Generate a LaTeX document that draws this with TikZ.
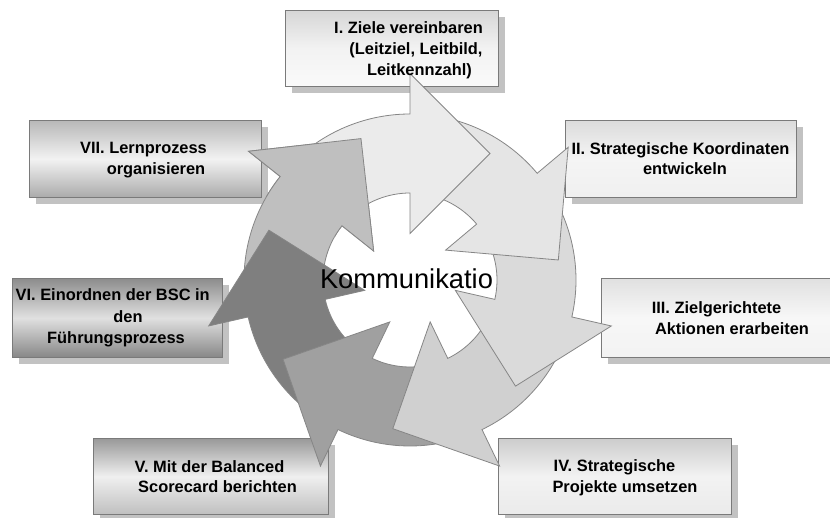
\documentclass[tikz,border=0pt]{standalone}
\usepackage{fontspec}
\newfontfamily\labelfont{Liberation Sans}
\usetikzlibrary{shadows}

\definecolor{arrowline}{HTML}{868686}
\definecolor{boxline}{HTML}{7A7A7A}
\definecolor{shadowgray}{HTML}{C2C2C2}
\definecolor{arrowI}{HTML}{EBEBEB}
\definecolor{arrowII}{HTML}{E5E5E5}
\definecolor{arrowIII}{HTML}{DADADA}
\definecolor{arrowIV}{HTML}{D0D0D0}
\definecolor{arrowV}{HTML}{A0A0A0}
\definecolor{arrowVI}{HTML}{7F7F7F}
\definecolor{arrowVII}{HTML}{BFBFBF}

% ring geometry (pt): inner/outer radius of the shaft, barb radii, tip
\def\rin{87}
\def\rout{166}
\def\rbarbin{46.5}
\def\rbarbout{206.5}
\def\rtip{149.67}

% one curved block arrow of the cycle: #1 = angle of the head base, #2 = fill
\newcommand\cyclearrow[2]{%
  \pgfmathsetmacro\arrowstart{#1+43}%
  \pgfmathsetmacro\arrowtip{#1-32.31}%
  \filldraw[arrowpart, fill=#2]
    (\arrowstart:\rout) arc[start angle=\arrowstart, end angle=#1, radius=\rout pt]
    -- (#1:\rbarbout) -- (\arrowtip:\rtip) -- (#1:\rbarbin) -- (#1:\rin)
    arc[start angle=#1, end angle=\arrowstart, radius=\rin pt] -- cycle;}

\tikzset{
  box/.style={draw=boxline, line width=0.8pt, inner sep=0pt, anchor=north west,
    drop shadow={shadow xshift=7pt, shadow yshift=-7pt, fill=shadowgray, opacity=1}},
  boxtext/.style={font=\labelfont\bfseries\fontsize{16.4}{20}\selectfont,
    anchor=base, inner sep=0pt, text=black},
  hubtext/.style={font=\labelfont\fontsize{27.3}{32}\selectfont,
    anchor=base, inner sep=0pt, text=black},
  arrowpart/.style={draw=arrowline, line width=0.8pt, line join=miter},
}

\begin{document}
\begin{tikzpicture}[x=1pt,y=1pt]
\fill[white] (0,0) rectangle (830,-517);
\useasboundingbox (0,0) rectangle (830,-517);

% step boxes
\node[box, minimum width=213pt, minimum height=76pt,
  top color=black!16, bottom color=black!2, middle color=black!5] (box1) at (285,-10) {};
\node[box, minimum width=231pt, minimum height=77pt,
  top color=black!14, bottom color=black!6, middle color=black!4] (box2) at (565,-120) {};
\node[box, minimum width=230pt, minimum height=79pt,
  top color=black!12, bottom color=black!5, middle color=black!3] (box3) at (601,-278) {};
\node[box, minimum width=233pt, minimum height=76pt,
  top color=black!20, bottom color=black!8, middle color=black!5] (box4) at (498,-438) {};
\node[box, minimum width=235pt, minimum height=76pt,
  top color=black!40, bottom color=black!25, middle color=black!6] (box5) at (93,-438) {};
\node[box, minimum width=210pt, minimum height=79pt,
  top color=black!45, bottom color=black!47, middle color=black!12] (box6) at (12,-278) {};
\node[box, minimum width=232pt, minimum height=77pt,
  top color=black!28, bottom color=black!33, middle color=black!5] (box7) at (29,-120) {};

% cycle of arrows around the centre
\begin{scope}[shift={(410,-280)}]
  \cyclearrow{141.43}{arrowVII}
  \cyclearrow{192.86}{arrowVI}
  \cyclearrow{244.29}{arrowV}
  \cyclearrow{295.71}{arrowIV}
  \cyclearrow{347.14}{arrowIII}
  \cyclearrow{40}{arrowII}
  \cyclearrow{90}{arrowI}
  % the head of arrow VII lies over the tail of arrow I
  \begin{scope}
    \clip (0,0) -- (95:320) arc[start angle=95, end angle=150, radius=320pt] -- cycle;
    \cyclearrow{141.43}{arrowVII}
  \end{scope}
\end{scope}

% labels
\node[boxtext] (t1a) at (408.5,-33) {I. Ziele vereinbaren};
\node[boxtext] (t1b) at (416,-54) {(Leitziel, Leitbild,};
\node[boxtext] (t1c) at (419.5,-75) {Leitkennzahl)};

\node[boxtext] (t2a) at (680.5,-154) {II. Strategische Koordinaten};
\node[boxtext] (t2b) at (685,-174) {entwickeln};

\node[boxtext] (t3a) at (716.5,-313) {III. Zielgerichtete};
\node[boxtext] (t3b) at (732,-334) {Aktionen erarbeiten};

\node[boxtext] (t4a) at (614.5,-471.5) {IV. Strategische};
\node[boxtext] (t4b) at (625,-492.5) {Projekte umsetzen};

\node[boxtext] (t5a) at (209.5,-472.5) {V. Mit der Balanced};
\node[boxtext] (t5b) at (217.5,-492.5) {Scorecard berichten};

\node[boxtext] (t6a) at (112.7,-300) {VI. Einordnen der BSC in};
\node[boxtext] (t6b) at (128,-322.5) {den};
\node[boxtext] (t6c) at (116,-343.5) {Führungsprozess};

\node[boxtext] (t7a) at (143.5,-153.3) {VII. Lernprozess};
\node[boxtext] (t7b) at (156,-174) {organisieren};

\node[hubtext] (hub) at (406.5,-288) {Kommunikatio};
\end{tikzpicture}
\end{document}
